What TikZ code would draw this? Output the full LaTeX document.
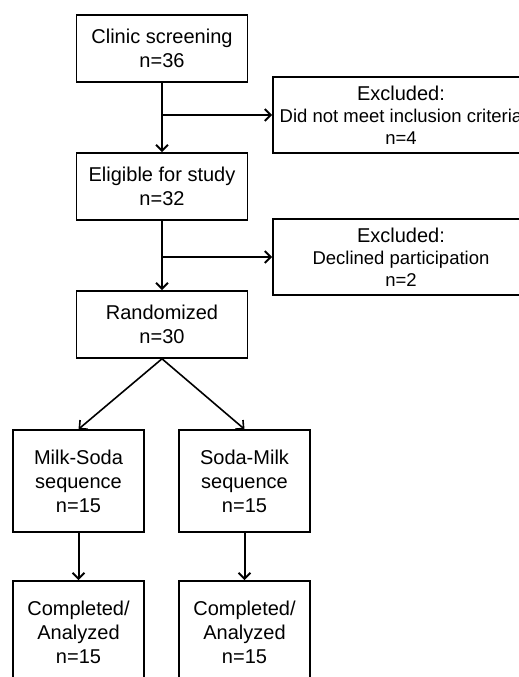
\documentclass[tikz,border=0pt]{standalone}
\usepackage{fontspec}
\setmainfont{Liberation Sans}
\usetikzlibrary{arrows.meta}
\newcommand{\exfont}{\fontsize{18.5}{22}\selectfont}

\begin{document}
\begin{tikzpicture}[x=1pt,y=-1pt,
		box/.style={draw, line width=1.6pt, inner sep=0pt, align=center,
			font=\fontsize{20}{24}\selectfont},
		wide/.style={box, minimum width=171, minimum height=67},
		arm/.style={box, minimum width=131, minimum height=102},
		excl/.style={box, minimum width=256, minimum height=76,
			font=\fontsize{20}{22}\selectfont},
		flow/.style={line width=2pt, -{Straight Barb[length=6pt,width=12pt]}}]
		%\draw[help lines] (0,0) grid (519,677);
		\useasboundingbox (0,0) rectangle (519,677);
		\clip (0,0) rectangle (519,677);

		\node[wide] (clinic) at (162,48.5) {Clinic screening\\n=36};
		\node[wide] (elig) at (162,186.5) {Eligible for study\\n=32};
		\node[wide] (rand) at (162,324.5) {Randomized\\n=30};

		\node[excl] (excl1) at (401,115) {Excluded:\\\exfont Did not meet inclusion criteria\\\exfont n=4};
		\node[excl] (excl2) at (401,257) {Excluded:\\\exfont Declined participation\\\exfont n=2};

		\node[arm] (milk) at (78.5,481) {Milk-Soda\\sequence\\n=15};
		\node[arm] (soda) at (244.5,481) {Soda-Milk\\sequence\\n=15};
		\node[arm] (doneA) at (78.5,632) {Completed/\\Analyzed\\n=15};
		\node[arm] (doneB) at (244.5,632) {Completed/\\Analyzed\\n=15};

		\coordinate (b1) at (clinic.south |- excl1.west);
		\coordinate (b2) at (elig.south |- excl2.west);

		\draw[flow] (clinic) -- (elig);
		\draw[flow] (b1) -- (excl1.west);
		\draw[flow] (elig) -- (rand);
		\draw[flow] (b2) -- (excl2.west);
		\draw[flow, line width=1.6pt] (rand.south) -- (milk.north);
		\draw[flow, line width=1.6pt] (rand.south) -- (soda.north);
		\draw[flow] (milk) -- (doneA);
		\draw[flow] (soda) -- (doneB);
\end{tikzpicture}
\end{document}
